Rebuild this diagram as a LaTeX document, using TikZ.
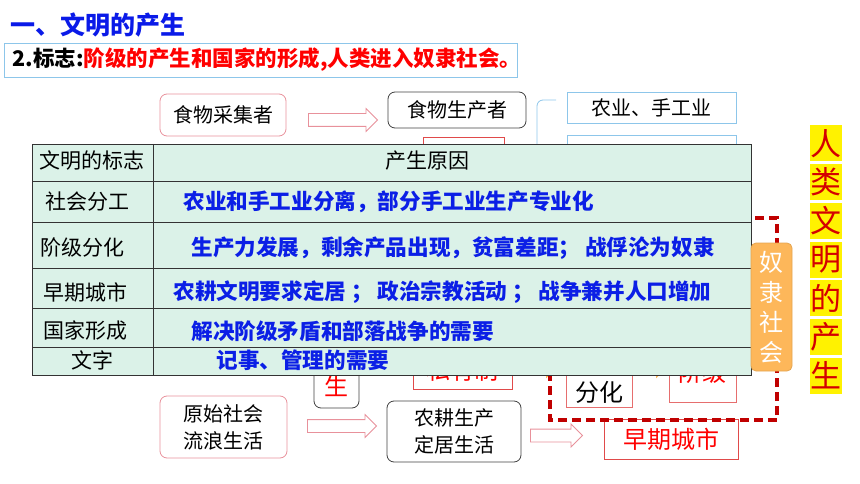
\documentclass[tikz,border=0pt]{standalone}
\usepackage{fontspec}
\setmainfont{Noto Sans CJK SC}
\usepackage{tikz}
\usetikzlibrary{shapes,arrows}
\definecolor{pinkline}{HTML}{E8919B}
\definecolor{blueline}{HTML}{8DC6EA}
\definecolor{titleblue}{HTML}{0A1AE8}
\definecolor{textblue}{HTML}{0B1FE6}
\definecolor{mint}{HTML}{DBF2E8}
\definecolor{darkred}{HTML}{C00000}
\definecolor{slaveorange}{HTML}{FDB75A}
\definecolor{redline}{HTML}{E04A4A}
\definecolor{markred}{HTML}{D40000}
\newcommand{\titlesize}{\fontsize{25}{28}\selectfont}
\newcommand{\subsize}{\fontsize{21.5}{24}\selectfont}
\newcommand{\kaisize}{\fontsize{20}{27}\selectfont}
\newcommand{\cellsize}{\fontsize{21}{25}\selectfont}
\newcommand{\causesize}{\fontsize{21.6}{25}\selectfont}
\newcommand{\bigsize}{\fontsize{24}{28}\selectfont}
\newcommand{\slavesize}{\fontsize{24}{30}\selectfont}
\newcommand{\charsize}{\fontsize{31}{31}\selectfont}
\tikzset{
	pinkbox/.style    = {draw=pinkline, rounded corners=7pt, inner sep=0, font=\kaisize},
	blackbox/.style   = {draw=black!75, rounded corners=7pt, inner sep=0, font=\kaisize},
	bluebox/.style    = {draw=blueline, inner sep=0, font=\kaisize},
	redbox/.style     = {draw=redline, inner sep=0},
	blockarrow/.style = {single arrow, draw=pinkline, fill=white, inner xsep=0pt,
		inner ysep=6pt, minimum width=22pt, single arrow head extend=5pt},
	smallarrow/.style = {single arrow, fill=slaveorange, inner xsep=0pt,
		inner ysep=5pt, minimum width=20pt, single arrow head extend=5pt},
	slavebox/.style   = {fill=slaveorange, draw=slaveorange!90!black, rounded corners=5pt,
		text=white, align=center, font=\slavesize},
	cell/.style       = {font=\cellsize, inner sep=0}, % first column
	reason/.style     = {font=\causesize\bfseries, text=textblue, anchor=west, inner sep=0}, % second column
	tableline/.style  = {draw=black!80, line width=0.9pt},
	charmark/.style   = {fill=yellow, text=markred, minimum width=32pt, minimum height=36pt,
		inner sep=0, font=\charsize}
}

\begin{document}
\begin{tikzpicture}[x=1pt, y=-1pt, thick, >=latex]
	\useasboundingbox (0,0) rectangle (860,484);
	\draw
	node at (7,25)[anchor=west, text=titleblue, font=\titlesize\bfseries] (title) {一、文明的产生}
	node at (4,43)[anchor=north west, draw=blueline, line width=0.8pt, minimum width=513pt,
		minimum height=34pt, inner sep=0] (markbox) {}
	node at (12,60)[anchor=west, font=\subsize\bfseries, inner sep=0] (mark)
		{2.标志:\textcolor{red}{阶级的产生和国家的形成,人类进入奴隶社会。}};
	
	\draw
	node at (223,115)[pinkbox, minimum width=126pt, minimum height=42pt] (caiji) {食物采集者}
	node at (378,120)[blockarrow, anchor=tip, minimum height=69pt] (arrowa) {}
	node at (457,110)[blackbox, minimum width=138pt, minimum height=36pt] (shengchan) {食物生产者}
	node at (463.5,158)[redbox, minimum width=81pt, minimum height=42pt] (fengong) {}
	node at (651.5,107.5)[bluebox, minimum width=169pt, minimum height=31pt] (nongye) {农业、手工业}
	node at (651.5,152)[bluebox, minimum width=169pt, minimum height=34pt] (xumu) {};
	\coordinate (bracetop) at (556,100);
	\coordinate (bracebot) at (537,215);
	\draw[blueline, rounded corners=6pt] (bracetop) -| (bracebot);
	
	% boxes behind the table
	\draw
	node at (336.5,349)[blackbox, minimum width=45pt, minimum height=118pt] (shengbox) {}
	node at (336.5,386)[text=red, font=\bigsize, inner sep=0] (sheng) {生}
	node at (462.5,367)[redbox, minimum width=99pt, minimum height=44pt] (siyou) {}
	node at (462.5,370)[text=red, font=\bigsize, inner sep=0] (siyoutext) {私有制}
	node at (599,376)[redbox, draw=redline!80, minimum width=66pt, minimum height=62pt] (fenhua) {}
	node at (599,392)[font=\bigsize, inner sep=0] (fenhuatext) {分化}
	node at (702.5,373.5)[redbox, draw=redline!80, minimum width=67pt, minimum height=57pt] (jieji) {}
	node at (702.5,372)[text=red, font=\bigsize, inner sep=0] (jiejitext) {阶级}
	node at (557,368)[smallarrow, anchor=tip, minimum height=28pt] (arrowb) {}
	node at (667,368)[smallarrow, anchor=tip, minimum height=28pt] (arrowc) {}
	node at (671,439)[redbox, minimum width=134pt, minimum height=40pt, text=red,
		font=\bigsize] (chengshi) {早期城市};
	
	\coordinate (dashtl) at (550,218);
	\coordinate (dashbr) at (777,420);
	\draw[darkred, line width=3.5pt, dash pattern=on 9pt off 5pt] (dashtl) rectangle (dashbr);
	
	\draw
	node at (223.5,427)[pinkbox, minimum width=127pt, minimum height=62pt, align=center] (yuanshi) {原始社会\\流浪生活}
	node at (377,426)[blockarrow, anchor=tip, minimum height=69pt] (arrowd) {}
	node at (454,431.5)[blackbox, minimum width=134pt, minimum height=61pt, align=center] (nonggeng) {农耕生产\\定居生活}
	node at (583,435.5)[blockarrow, anchor=tip, minimum height=52pt] (arrowe) {};
	
	% table
	\fill[mint] (32,144) rectangle (751,375);
	\foreach \y in {181,222,268,308,347}
		\draw[tableline] (32,\y) -- (751,\y);
	\draw[tableline] (32,144) rectangle (751,375);
	\draw[tableline] (153,144) -- (153,375);
	
	\draw
	node at (91.5,161)[cell] (headsign) {文明的标志}
	node at (385,161)[cell, anchor=west] (headcause) {产生原因}
	node at (87.5,202)[cell] (signa) {社会分工}
	node at (82.5,248)[cell] (signb) {阶级分化}
	node at (85,292)[cell] (signc) {早期城市}
	node at (85.5,331)[cell] (signd) {国家形成}
	node at (92.5,360)[cell] (signe) {文字}
	node at (183,202)[reason] (causea) {农业和手工业分离，部分手工业生产专业化}
	node at (191,248)[reason] (causeb) {生产力发展，剩余产品出现，贫富差距； 战俘沦为奴隶}
	node at (173,292)[reason] (causec) {农耕文明要求定居 ； 政治宗教活动 ； 战争兼并人口增加}
	node at (191,331)[reason] (caused) {解决阶级矛盾和部落战争的需要}
	node at (216,360)[reason] (causee) {记事、管理的需要};
	
	\draw
	node at (771.5,307)[slavebox, minimum width=41pt, minimum height=128pt] (slave) {奴\\隶\\社\\会};
	
	\foreach \ch [count=\i] in {人,类,文,明,的,产,生}
		\node[charmark] (char\i) at (826,{143.5+38.7*(\i-1)}) {\ch};
	
\end{tikzpicture}
\end{document}
